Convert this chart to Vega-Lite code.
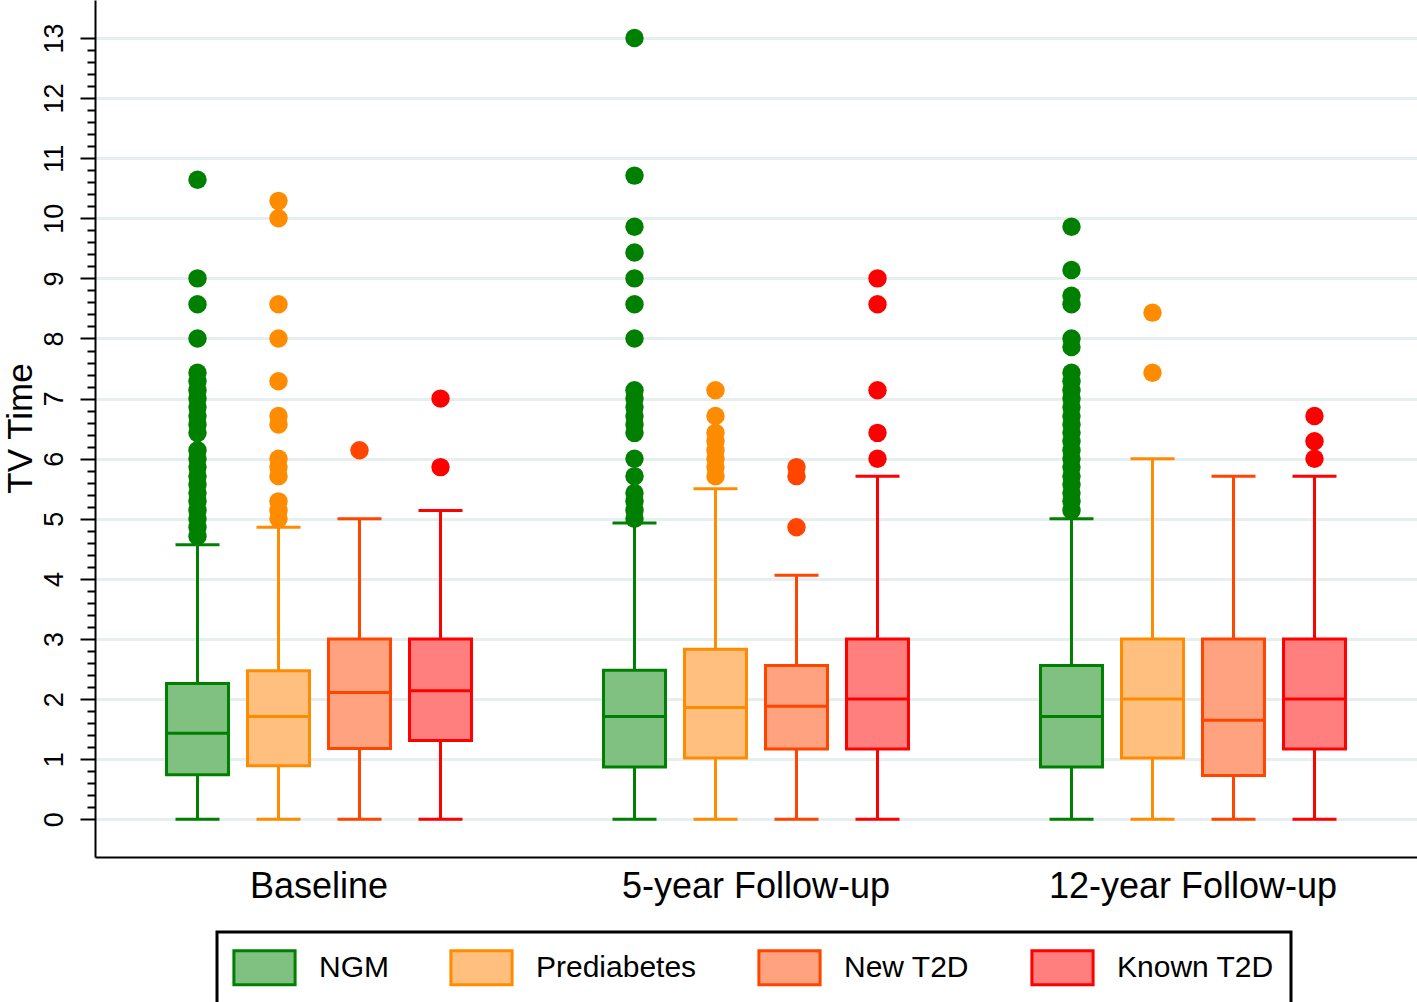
{
  "$schema": "https://vega.github.io/schema/vega-lite/v6.json",
  "width": 1322,
  "height": 857,
  "autosize": {"type": "none"},
  "padding": {"left": 95, "top": 0, "right": 0, "bottom": 145},
  "background": "white",
  "datasets": {
    "boxes": [
      {"time": "Baseline", "group": "NGM", "lo": 0, "q1": 0.74, "med": 1.43, "q3": 2.26, "hi": 4.57},
      {"time": "Baseline", "group": "Prediabetes", "lo": 0, "q1": 0.89, "med": 1.71, "q3": 2.47, "hi": 4.86},
      {"time": "Baseline", "group": "New T2D", "lo": 0, "q1": 1.18, "med": 2.11, "q3": 3.0, "hi": 5.0},
      {"time": "Baseline", "group": "Known T2D", "lo": 0, "q1": 1.31, "med": 2.14, "q3": 3.0, "hi": 5.14},
      {"time": "5-year Follow-up", "group": "NGM", "lo": 0, "q1": 0.87, "med": 1.71, "q3": 2.48, "hi": 4.93},
      {"time": "5-year Follow-up", "group": "Prediabetes", "lo": 0, "q1": 1.02, "med": 1.86, "q3": 2.83, "hi": 5.5},
      {"time": "5-year Follow-up", "group": "New T2D", "lo": 0, "q1": 1.17, "med": 1.88, "q3": 2.56, "hi": 4.06},
      {"time": "5-year Follow-up", "group": "Known T2D", "lo": 0, "q1": 1.17, "med": 2.0, "q3": 3.0, "hi": 5.71},
      {"time": "12-year Follow-up", "group": "NGM", "lo": 0, "q1": 0.87, "med": 1.71, "q3": 2.56, "hi": 5.0},
      {"time": "12-year Follow-up", "group": "Prediabetes", "lo": 0, "q1": 1.02, "med": 2.0, "q3": 3.0, "hi": 6.0},
      {"time": "12-year Follow-up", "group": "New T2D", "lo": 0, "q1": 0.73, "med": 1.65, "q3": 3.0, "hi": 5.71},
      {"time": "12-year Follow-up", "group": "Known T2D", "lo": 0, "q1": 1.17, "med": 2.0, "q3": 3.0, "hi": 5.71}
    ],
    "outliers": [
      {"time": "Baseline", "group": "NGM", "v": 10.64},
      {"time": "Baseline", "group": "NGM", "v": 9.0},
      {"time": "Baseline", "group": "NGM", "v": 8.57},
      {"time": "Baseline", "group": "NGM", "v": 8.0},
      {"time": "Baseline", "group": "NGM", "v": 7.43},
      {"time": "Baseline", "group": "NGM", "v": 7.29},
      {"time": "Baseline", "group": "NGM", "v": 7.14},
      {"time": "Baseline", "group": "NGM", "v": 7.0},
      {"time": "Baseline", "group": "NGM", "v": 6.86},
      {"time": "Baseline", "group": "NGM", "v": 6.71},
      {"time": "Baseline", "group": "NGM", "v": 6.57},
      {"time": "Baseline", "group": "NGM", "v": 6.43},
      {"time": "Baseline", "group": "NGM", "v": 6.14},
      {"time": "Baseline", "group": "NGM", "v": 6.0},
      {"time": "Baseline", "group": "NGM", "v": 5.86},
      {"time": "Baseline", "group": "NGM", "v": 5.71},
      {"time": "Baseline", "group": "NGM", "v": 5.57},
      {"time": "Baseline", "group": "NGM", "v": 5.43},
      {"time": "Baseline", "group": "NGM", "v": 5.29},
      {"time": "Baseline", "group": "NGM", "v": 5.14},
      {"time": "Baseline", "group": "NGM", "v": 5.0},
      {"time": "Baseline", "group": "NGM", "v": 4.86},
      {"time": "Baseline", "group": "NGM", "v": 4.71},
      {"time": "Baseline", "group": "Prediabetes", "v": 10.29},
      {"time": "Baseline", "group": "Prediabetes", "v": 10.0},
      {"time": "Baseline", "group": "Prediabetes", "v": 8.57},
      {"time": "Baseline", "group": "Prediabetes", "v": 8.0},
      {"time": "Baseline", "group": "Prediabetes", "v": 7.29},
      {"time": "Baseline", "group": "Prediabetes", "v": 6.71},
      {"time": "Baseline", "group": "Prediabetes", "v": 6.57},
      {"time": "Baseline", "group": "Prediabetes", "v": 6.0},
      {"time": "Baseline", "group": "Prediabetes", "v": 5.86},
      {"time": "Baseline", "group": "Prediabetes", "v": 5.71},
      {"time": "Baseline", "group": "Prediabetes", "v": 5.29},
      {"time": "Baseline", "group": "Prediabetes", "v": 5.14},
      {"time": "Baseline", "group": "Prediabetes", "v": 5.0},
      {"time": "Baseline", "group": "New T2D", "v": 6.14},
      {"time": "Baseline", "group": "Known T2D", "v": 7.0},
      {"time": "Baseline", "group": "Known T2D", "v": 5.86},
      {"time": "5-year Follow-up", "group": "NGM", "v": 13.0},
      {"time": "5-year Follow-up", "group": "NGM", "v": 10.71},
      {"time": "5-year Follow-up", "group": "NGM", "v": 9.86},
      {"time": "5-year Follow-up", "group": "NGM", "v": 9.43},
      {"time": "5-year Follow-up", "group": "NGM", "v": 9.0},
      {"time": "5-year Follow-up", "group": "NGM", "v": 8.57},
      {"time": "5-year Follow-up", "group": "NGM", "v": 8.0},
      {"time": "5-year Follow-up", "group": "NGM", "v": 7.14},
      {"time": "5-year Follow-up", "group": "NGM", "v": 7.0},
      {"time": "5-year Follow-up", "group": "NGM", "v": 6.86},
      {"time": "5-year Follow-up", "group": "NGM", "v": 6.71},
      {"time": "5-year Follow-up", "group": "NGM", "v": 6.57},
      {"time": "5-year Follow-up", "group": "NGM", "v": 6.43},
      {"time": "5-year Follow-up", "group": "NGM", "v": 6.0},
      {"time": "5-year Follow-up", "group": "NGM", "v": 5.71},
      {"time": "5-year Follow-up", "group": "NGM", "v": 5.43},
      {"time": "5-year Follow-up", "group": "NGM", "v": 5.29},
      {"time": "5-year Follow-up", "group": "NGM", "v": 5.14},
      {"time": "5-year Follow-up", "group": "NGM", "v": 5.0},
      {"time": "5-year Follow-up", "group": "Prediabetes", "v": 7.14},
      {"time": "5-year Follow-up", "group": "Prediabetes", "v": 6.71},
      {"time": "5-year Follow-up", "group": "Prediabetes", "v": 6.43},
      {"time": "5-year Follow-up", "group": "Prediabetes", "v": 6.29},
      {"time": "5-year Follow-up", "group": "Prediabetes", "v": 6.14},
      {"time": "5-year Follow-up", "group": "Prediabetes", "v": 6.0},
      {"time": "5-year Follow-up", "group": "Prediabetes", "v": 5.86},
      {"time": "5-year Follow-up", "group": "Prediabetes", "v": 5.71},
      {"time": "5-year Follow-up", "group": "New T2D", "v": 5.86},
      {"time": "5-year Follow-up", "group": "New T2D", "v": 5.71},
      {"time": "5-year Follow-up", "group": "New T2D", "v": 4.86},
      {"time": "5-year Follow-up", "group": "Known T2D", "v": 9.0},
      {"time": "5-year Follow-up", "group": "Known T2D", "v": 8.57},
      {"time": "5-year Follow-up", "group": "Known T2D", "v": 7.14},
      {"time": "5-year Follow-up", "group": "Known T2D", "v": 6.43},
      {"time": "5-year Follow-up", "group": "Known T2D", "v": 6.0},
      {"time": "12-year Follow-up", "group": "NGM", "v": 9.86},
      {"time": "12-year Follow-up", "group": "NGM", "v": 9.14},
      {"time": "12-year Follow-up", "group": "NGM", "v": 8.71},
      {"time": "12-year Follow-up", "group": "NGM", "v": 8.57},
      {"time": "12-year Follow-up", "group": "NGM", "v": 8.0},
      {"time": "12-year Follow-up", "group": "NGM", "v": 7.86},
      {"time": "12-year Follow-up", "group": "NGM", "v": 7.43},
      {"time": "12-year Follow-up", "group": "NGM", "v": 7.29},
      {"time": "12-year Follow-up", "group": "NGM", "v": 7.14},
      {"time": "12-year Follow-up", "group": "NGM", "v": 7.0},
      {"time": "12-year Follow-up", "group": "NGM", "v": 6.86},
      {"time": "12-year Follow-up", "group": "NGM", "v": 6.71},
      {"time": "12-year Follow-up", "group": "NGM", "v": 6.57},
      {"time": "12-year Follow-up", "group": "NGM", "v": 6.43},
      {"time": "12-year Follow-up", "group": "NGM", "v": 6.29},
      {"time": "12-year Follow-up", "group": "NGM", "v": 6.14},
      {"time": "12-year Follow-up", "group": "NGM", "v": 6.0},
      {"time": "12-year Follow-up", "group": "NGM", "v": 5.86},
      {"time": "12-year Follow-up", "group": "NGM", "v": 5.71},
      {"time": "12-year Follow-up", "group": "NGM", "v": 5.57},
      {"time": "12-year Follow-up", "group": "NGM", "v": 5.43},
      {"time": "12-year Follow-up", "group": "NGM", "v": 5.29},
      {"time": "12-year Follow-up", "group": "NGM", "v": 5.14},
      {"time": "12-year Follow-up", "group": "Prediabetes", "v": 8.43},
      {"time": "12-year Follow-up", "group": "Prediabetes", "v": 7.43},
      {"time": "12-year Follow-up", "group": "Known T2D", "v": 6.71},
      {"time": "12-year Follow-up", "group": "Known T2D", "v": 6.29},
      {"time": "12-year Follow-up", "group": "Known T2D", "v": 6.0}
    ]
  },
  "encoding": {
    "x": {
      "field": "time", "type": "nominal",
      "sort": ["Baseline", "5-year Follow-up", "12-year Follow-up"],
      "scale": {"domain": ["Baseline", "5-year Follow-up", "12-year Follow-up"], "paddingInner": 0, "paddingOuter": 0.0126},
      "axis": {
        "title": null, "labelAngle": 0, "labelFontSize": 36, "labelColor": "black", "labelLimit": 500,
        "ticks": false, "tickSize": 0, "labelPadding": 40, "labelBaseline": "alphabetic",
        "domainColor": "black", "domainWidth": 2, "grid": false
      }
    },
    "xOffset": {
      "field": "group", "type": "nominal",
      "sort": ["NGM", "Prediabetes", "New T2D", "Known T2D"],
      "scale": {"domain": ["NGM", "Prediabetes", "New T2D", "Known T2D"], "paddingInner": 0.235, "paddingOuter": 0.815}
    }
  },
  "layer": [
    {
      "data": {"name": "boxes"},
      "mark": {"type": "rule", "strokeWidth": 3},
      "encoding": {
        "y": {
          "field": "lo", "type": "quantitative", "title": "TV Time",
          "scale": {"domain": [-0.627, 13.632], "nice": false, "zero": false},
          "axis": {
            "values": [0,0.2,0.4,0.6,0.8,1,1.2,1.4,1.6,1.8,2,2.2,2.4,2.6,2.8,3,3.2,3.4,3.6,3.8,4,4.2,4.4,4.6,4.8,5,5.2,5.4,5.6,5.8,6,6.2,6.4,6.6,6.8,7,7.2,7.4,7.6,7.8,8,8.2,8.4,8.6,8.8,9,9.2,9.4,9.6,9.8,10,10.2,10.4,10.6,10.8,11,11.2,11.4,11.6,11.8,12,12.2,12.4,12.6,12.8,13],
            "tickCount": 200,
            "format": ".0f",
            "labelExpr": "datum.value % 1 === 0 ? datum.label : ''",
            "labelOverlap": false, "labelFlush": false,
            "labelAngle": 270, "labelAlign": "center", "labelBaseline": "alphabetic",
            "labelFontSize": 27, "labelColor": "black", "labelPadding": 18,
            "tickSize": {"condition": {"test": "datum.value % 1 === 0", "value": 15}, "value": 8},
            "tickWidth": 2, "tickColor": "black",
            "domainColor": "black", "domainWidth": 2,
            "grid": true, "gridColor": "#E6EEF0", "gridWidth": 3,
            "gridOpacity": {"condition": {"test": "datum.value % 1 === 0", "value": 1}, "value": 0},
            "titleFontSize": 35, "titleFontWeight": "normal", "titleColor": "black",
            "titleAngle": 270, "titleX": -64, "titleY": 428, "titleBaseline": "alphabetic", "titleAlign": "center"
          }
        },
        "y2": {"field": "hi"},
        "stroke": {"field": "group", "type": "nominal", "title": null,
          "scale": {"domain": ["NGM", "Prediabetes", "New T2D", "Known T2D"], "range": ["#008000", "#FF8C00", "#FF4500", "#FF0000"]},
          "legend": {
            "orient": "none", "legendX": 122, "legendY": 932,
            "direction": "horizontal", "columns": 4, "gridAlign": "each", "columnPadding": 55,
            "padding": 17, "strokeColor": "black", "fillColor": "white",
            "symbolType": "M-1.8,-1H1.8V1H-1.8Z", "symbolSize": 1156, "symbolStrokeWidth": 3, "symbolOffset": 12,
            "labelFontSize": 30, "labelColor": "black", "labelOffset": 36, "labelLimit": 400
          }
        }
      }
    },
    {
      "data": {"name": "boxes"},
      "mark": {"type": "bar", "strokeWidth": 3, "opacity": 1},
      "encoding": {
        "y": {"field": "q1", "type": "quantitative", "title": "TV Time"},
        "y2": {"field": "q3"},
        "fill": {"field": "group", "type": "nominal", "title": null,
          "scale": {"domain": ["NGM", "Prediabetes", "New T2D", "Known T2D"], "range": ["#80C080", "#FFC07F", "#FFA27F", "#FF7F7F"]},
          "legend": {
            "orient": "none", "legendX": 122, "legendY": 932,
            "direction": "horizontal", "columns": 4, "gridAlign": "each", "columnPadding": 55,
            "padding": 17, "strokeColor": "black", "fillColor": "white",
            "symbolType": "M-1.8,-1H1.8V1H-1.8Z", "symbolSize": 1156, "symbolStrokeWidth": 3, "symbolOffset": 12,
            "labelFontSize": 30, "labelColor": "black", "labelOffset": 36, "labelLimit": 400
          }
        },
        "stroke": {"field": "group", "type": "nominal", "title": null}
      }
    },
    {
      "data": {"name": "boxes"},
      "mark": {"type": "tick", "size": 62, "thickness": 3, "opacity": 1},
      "encoding": {
        "y": {"field": "med", "type": "quantitative", "title": "TV Time"},
        "color": {"field": "group", "type": "nominal", "legend": null,
          "scale": {"domain": ["NGM", "Prediabetes", "New T2D", "Known T2D"], "range": ["#008000", "#FF8C00", "#FF4500", "#FF0000"]}}
      }
    },
    {
      "data": {"name": "boxes"},
      "mark": {"type": "tick", "size": 44, "thickness": 3, "opacity": 1},
      "encoding": {
        "y": {"field": "hi", "type": "quantitative", "title": "TV Time"},
        "color": {"field": "group", "type": "nominal", "legend": null}
      }
    },
    {
      "data": {"name": "boxes"},
      "mark": {"type": "tick", "size": 44, "thickness": 3, "opacity": 1},
      "encoding": {
        "y": {"field": "lo", "type": "quantitative", "title": "TV Time"},
        "color": {"field": "group", "type": "nominal", "legend": null}
      }
    },
    {
      "data": {"name": "outliers"},
      "mark": {"type": "point", "shape": "circle", "filled": true, "size": 340, "opacity": 1},
      "encoding": {
        "y": {"field": "v", "type": "quantitative", "title": "TV Time"},
        "color": {"field": "group", "type": "nominal", "legend": null}
      }
    }
  ],
  "config": {
    "view": {"stroke": null},
    "font": "Liberation Sans",
    "legend": {"strokeWidth": 3}
  }
}
